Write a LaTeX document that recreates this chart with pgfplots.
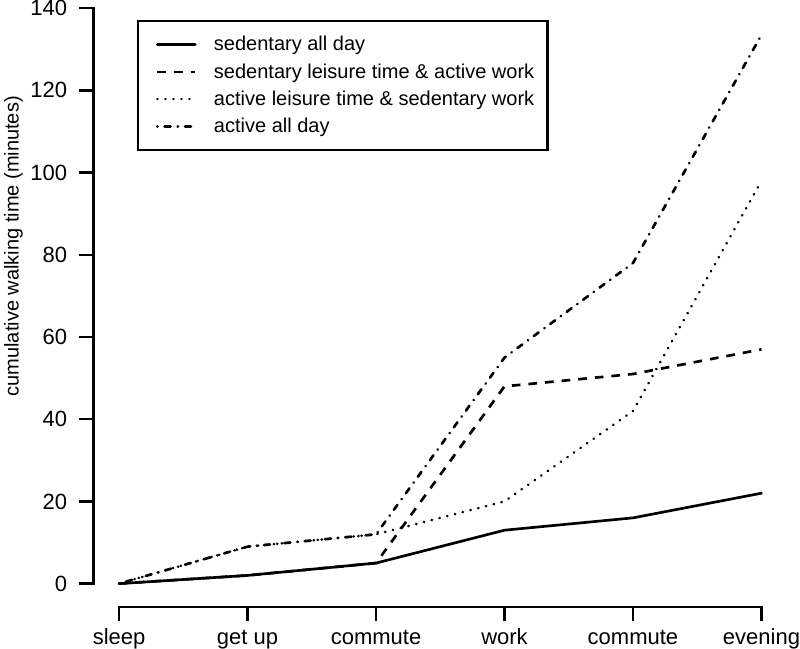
\documentclass[border=0pt]{standalone}
\usepackage{pgfplots}
\pgfplotsset{compat=1.18}
\usepackage{fontspec}
\setmainfont{Liberation Sans}
\begin{document}
\begin{tikzpicture}
\begin{axis}[
  scale only axis,
  width=520pt, height=454.7pt,
  xmin=-0.2, xmax=5.2,
  ymin=-5.6, ymax=142,
  clip=false,
  axis line style={draw=none},
  tick pos=left,
  tick align=outside,
  major tick length=10.5pt,
  every tick/.style={black, line width=1.7pt},
  xtick={0,1,2,3,4,5},
  xticklabels={sleep, get up, commute, work, commute, evening},
  ytick={0,20,40,60,80,100,120,140},
  /pgf/number format/assume math mode=true,
  tick label style={font=\fontsize{16.5}{20}\selectfont, inner sep=0pt},
  yticklabel style={xshift=-9pt},
  xticklabel style={yshift=-10.5pt, text height=0.72em, text depth=0.3em},
  ylabel={cumulative walking time (minutes)},
  ylabel style={font=\fontsize{15}{18}\selectfont, inner sep=3pt, at={(axis description cs:-0.1154,0.594)}, anchor=center},
  legend style={at={(axis description cs:0.063,0.967)}, anchor=north west,
    draw=black, line width=1.7pt, font=\fontsize{15}{18}\selectfont,
    inner xsep=8pt, inner ysep=9.5pt, row sep=4pt},
  legend cell align=left,
  legend image code/.code={\path (-5.25pt,0pt); \draw[#1] (0pt,0pt) -- (28.5pt,0pt); \path (39.5pt,0pt);},
]
\draw[line width=1.7pt, line cap=rect] (axis cs:-0.2,0) -- (axis cs:-0.2,140);
\draw[line width=1.7pt, line cap=rect] (axis cs:0,-5.6) -- (axis cs:5,-5.6);

\addplot[black, line width=2pt, solid, line cap=round, line join=round]
  coordinates {(0,0) (1,2) (2,5) (3,13) (4,16) (5,22)};
\addlegendentry{sedentary all day}
\addplot[black, line width=2pt, line cap=butt, dash pattern=on 6.5pt off 6pt]
  coordinates {(0,0) (1,2) (2,5) (3,48) (4,51) (5,57)};
\addlegendentry{sedentary leisure time \& active work}
\addplot[black, line width=2pt, line cap=round, dash pattern=on 0.2pt off 5.8pt]
  coordinates {(0,0) (1,9) (2,12) (3,20) (4,42) (5,98)};
\addlegendentry{active leisure time \& sedentary work}
\addplot[black, line width=2pt, line cap=round, dash pattern=on 0.2pt off 5.3pt on 4.5pt off 5.3pt]
  coordinates {(0,0) (1,9) (2,12) (3,55) (4,78) (5,133.5)};
\addlegendentry{active all day}
\end{axis}
\end{tikzpicture}
\end{document}
